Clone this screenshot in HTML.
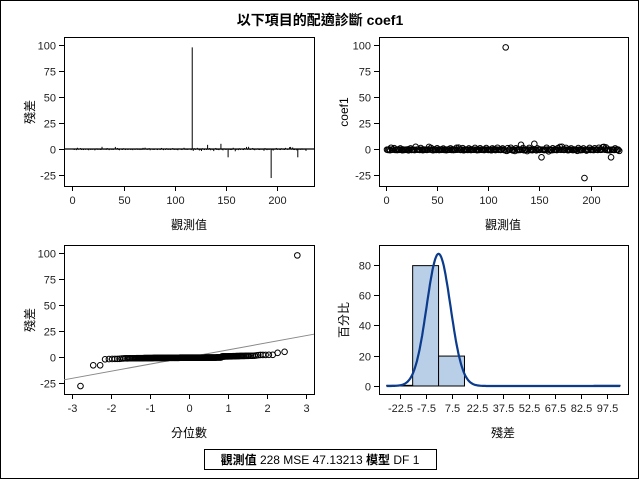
<!DOCTYPE html>
<html><head><meta charset="utf-8">
<style>
body{margin:0;background:#fff;}
svg{display:block;font-family:"Liberation Sans","Noto Sans CJK TC",sans-serif;}
.tk{font-size:11px;fill:#222;}
.lb{font-size:12px;fill:#000;}
</style></head>
<body>
<svg id="c" width="640" height="480" viewBox="0 0 640 480">
<rect x="0.5" y="0.5" width="638" height="478" fill="#fff" stroke="#000"/>
<text x="320" y="25" text-anchor="middle" font-size="14" font-weight="bold">以下項目的配適診斷 coef1</text>
<g id="g"></g>
<rect x="204.5" y="449.5" width="232" height="20" fill="#fff" stroke="#000"/>
<text x="320" y="464" text-anchor="middle" font-size="12"><tspan font-weight="bold">觀測值</tspan> 228  MSE 47.13213  <tspan font-weight="bold">模型</tspan> DF 1</text>
</svg>
<script>
const residuals=[
-0.6,-0.9,-0.4,-1.1,1.2,-0.7,-0.5,0.8,-0.9,-0.6,-1.0,-0.4,-0.8,0.5,-0.7,-1.2,-0.5,-0.9,-0.6,
-0.8,-0.4,-1.3,-0.7,0.6,-0.9,-0.5,-0.8,-1.0,2.1,-0.6,-0.7,-0.4,-0.9,0.9,-0.6,-1.1,-0.5,-0.8,
-0.7,-0.9,-0.5,2.0,-0.6,1.0,-0.8,-1.2,-0.4,-0.7,-0.9,0.7,-0.6,-1.0,-0.5,-0.8,-0.7,0.4,-0.9,
-0.6,-1.1,-0.5,-0.8,-0.7,0.6,-0.9,-0.4,-1.0,-0.6,-0.8,1.1,-0.7,1.3,-0.5,-0.9,-0.6,0.8,-1.2,
-0.5,-0.7,-0.8,-0.9,0.5,-0.6,-1.0,-0.4,-0.7,-0.8,1.0,-0.6,-1.1,-0.5,-0.9,0.7,-0.7,-0.8,-0.6,
-1.0,-0.5,0.9,-0.7,-0.9,-0.6,-0.8,-1.2,0.6,-0.4,-0.7,-1.0,-0.5,1.2,-0.8,-0.6,-0.9,-0.7,0.5,
-0.6,-1.1,98.0,-1.8,0.8,-0.9,-0.5,1.1,-0.7,-1.4,-0.8,-1.9,0.7,-0.6,-1.0,-0.5,-0.9,4.0,-0.7,
0.9,-1.2,-0.6,-0.8,-2.0,-0.5,1.0,-0.9,-0.7,-1.1,-0.6,5.0,-0.8,-1.3,0.6,-0.7,-0.9,-0.5,-8.0,
-0.6,-0.9,-1.0,-0.7,1.2,-0.5,-2.2,-0.8,-0.6,-1.1,0.7,-0.9,-0.4,-0.7,-1.0,0.8,-0.6,2.0,-0.8,
2.1,-0.7,-0.9,-0.5,1.0,-0.8,-1.2,-0.6,-0.7,0.6,-0.9,-1.0,-0.5,-0.8,-0.6,-1.7,0.9,-0.7,-1.1,
-0.6,-0.9,0.5,-28.0,-0.8,-1.5,-0.7,-0.6,1.0,-0.9,-0.5,-0.8,-1.0,0.7,-0.6,-0.7,-0.9,1.1,-0.5,
-0.8,-0.6,1.8,2.0,-0.7,1.5,-0.9,-1.0,-0.5,-1.3,-8.0,-0.7,-0.6,-0.9,0.6,-0.8,-0.5,-0.7,-1.8];
const coef1=residuals.slice();
const yTicks=[-25,0,25,50,75,100];
const obsTicks=[0,50,100,150,200];
const qTicks=[-3,-2,-1,0,1,2,3];
const pctTicks=[0,20,40,60,80];
const binMids=[-22.5,-7.5,7.5,22.5,37.5,52.5,67.5,82.5,97.5];
const mse=47.13213;

const NS='http://www.w3.org/2000/svg';
const G=document.getElementById('g');
function mk(tag,at,parent){const e=document.createElementNS(NS,tag);for(const k in at)e.setAttribute(k,at[k]);(parent||G).appendChild(e);return e;}
function txt(x,y,s,cls,anchor,rot){const t=mk('text',{x:x,y:y,class:cls,'text-anchor':anchor||'middle'});if(rot)t.setAttribute('transform','rotate(-90 '+x+' '+y+')');t.textContent=s;return t;}
function lin(d0,d1,r0,r1){return v=>r0+(v-d0)*(r1-r0)/(d1-d0);}

// common frame + axes
function frame(x0,y0,x1,y1,name){const r=mk('rect',{x:x0+.5,y:y0+.5,width:x1-x0,height:y1-y0,fill:'none',stroke:'#000'});}
function xAxis(ticks,sx,yb,fmt,name){const g=mk('g',{});
 ticks.forEach(v=>{const x=Math.round(sx(v))+.5;mk('line',{x1:x,x2:x,y1:yb,y2:yb+5,stroke:'#000'},g);txt(x,yb+18,fmt?fmt(v):String(v),'tk','middle');});}
function yAxis(ticks,sy,xl,name){const g=mk('g',{});
 ticks.forEach(v=>{const y=Math.round(sy(v))+.5;mk('line',{x1:xl-5,x2:xl,y1:y,y2:y,stroke:'#000'},g);txt(xl-8,y+4,String(v),'tk','end');});}

// Panel 1: residual needle plot
(function(){const x0=64,x1=314,y0=37,y1=186;
 const sx=lin(0,200,72.3,277.3),sy=lin(0,100,149,45.3);
 frame(x0,y0,x1,y1,'residual-needle-frame');
 mk('line',{x1:x0,x2:x1,y1:sy(0),y2:sy(0),stroke:'#000','stroke-width':1.2});
 residuals.forEach((v,i)=>{const x=sx(i+1);const l=mk('line',{x1:x,x2:x,y1:sy(0),y2:sy(v),stroke:'#000','stroke-width':1});
  });
 xAxis(obsTicks,sx,y1,null,'x-axis-obs-1');yAxis(yTicks,sy,x0,'y-axis-residual-1');
 txt(189,229,'觀測值','lb');
 txt(34,112,'殘差','lb','middle',true);})();

// Panel 2: coef1 vs observation
(function(){const x0=379,x1=628,y0=37,y1=186;
 const sx=lin(0,200,386,590.6),sy=lin(0,100,149,45.3);
 frame(x0,y0,x1,y1,'coef1-scatter-frame');
 coef1.forEach((v,i)=>{const c=mk('circle',{cx:sx(i+1),cy:sy(v),r:2.8,fill:'none',stroke:'#000','stroke-width':1});
  });
 xAxis(obsTicks,sx,y1,null,'x-axis-obs-2');yAxis(yTicks,sy,x0,'y-axis-coef1');
 txt(503,229,'觀測值','lb');
 txt(348,112,'coef1','lb','middle',true);})();

// inverse normal (Acklam)
function invN(p){const a=[-39.69683028665376,220.9460984245205,-275.9285104469687,138.3577518672690,-30.66479806614716,2.506628277459239],
 b=[-54.47609879822406,161.5858368580409,-155.6989798598866,66.80131188771972,-13.28068155288572],
 c=[-0.007784894002430293,-0.3223964580411365,-2.400758277161838,-2.549732539343734,4.374664141464968,2.938163982698783],
 d=[0.007784695709041462,0.3224671290700398,2.445134137142996,3.754408661907416];
 const pl=0.02425;let q,r;
 if(p<pl){q=Math.sqrt(-2*Math.log(p));return (((((c[0]*q+c[1])*q+c[2])*q+c[3])*q+c[4])*q+c[5])/((((d[0]*q+d[1])*q+d[2])*q+d[3])*q+1);}
 if(p>1-pl){q=Math.sqrt(-2*Math.log(1-p));return -(((((c[0]*q+c[1])*q+c[2])*q+c[3])*q+c[4])*q+c[5])/((((d[0]*q+d[1])*q+d[2])*q+d[3])*q+1);}
 q=p-0.5;r=q*q;return (((((a[0]*r+a[1])*r+a[2])*r+a[3])*r+a[4])*r+a[5])*q/(((((b[0]*r+b[1])*r+b[2])*r+b[3])*r+b[4])*r+1);}

// Panel 3: QQ plot
(function(){const x0=64,x1=314,y0=245,y1=394;
 const sx=lin(-3,3,71.8,306),sy=lin(0,100,357,253.3);
 frame(x0,y0,x1,y1,'qq-frame');
 const s=Math.sqrt(mse);const xa=(x0-189)/39,xb=(x1-189)/39;
 const rl=mk('line',{x1:x0,x2:x1,y1:sy(xa*s),y2:sy(xb*s),stroke:'#888','stroke-width':1});
 
 const srt=residuals.slice().sort((a,b)=>a-b);const n=srt.length;
 srt.forEach((v,i)=>{const q=invN((i+1-0.375)/(n+0.25));const c=mk('circle',{cx:sx(q),cy:sy(v),r:2.8,fill:'none',stroke:'#000','stroke-width':1});
  });
 xAxis(qTicks,sx,y1,null,'x-axis-quantile');yAxis(yTicks,sy,x0,'y-axis-residual-3');
 txt(189,437,'分位數','lb');
 txt(34,320,'殘差','lb','middle',true);})();

// Panel 4: histogram + normal density
(function(){const x0=379,x1=628,y0=245,y1=394;
 const sx=lin(-22.5,97.5,399.7,607),sy=lin(0,80,386,264.7);
 frame(x0,y0,x1,y1,'histogram-frame');
 const n=residuals.length;
 binMids.concat([-37.5]).forEach(m=>{const cnt=residuals.filter(v=>v>=m-7.5&&v<m+7.5).length;if(!cnt)return;
  const pct=cnt/n*100;const r=mk('rect',{x:sx(m-7.5),y:sy(pct),width:sx(m+7.5)-sx(m-7.5),height:sy(0)-sy(pct),fill:'#b9cfe7',stroke:'#000','stroke-width':1});
  });
 const s=Math.sqrt(mse);let d='';
 for(let x=-30;x<=105;x+=0.5){const y=100*15/(s*Math.sqrt(2*Math.PI))*Math.exp(-x*x/(2*s*s));d+=(d?'L':'M')+sx(x).toFixed(1)+','+sy(y).toFixed(1);}
 const p=mk('path',{d:d,fill:'none',stroke:'#0b3b8c','stroke-width':2.2});
 
 xAxis(binMids,sx,y1,null,'x-axis-residual-bins');yAxis(pctTicks,sy,x0,'y-axis-percent');
 txt(503,437,'殘差','lb');
 txt(348,320,'百分比','lb','middle',true);})();
</script>
</body></html>
